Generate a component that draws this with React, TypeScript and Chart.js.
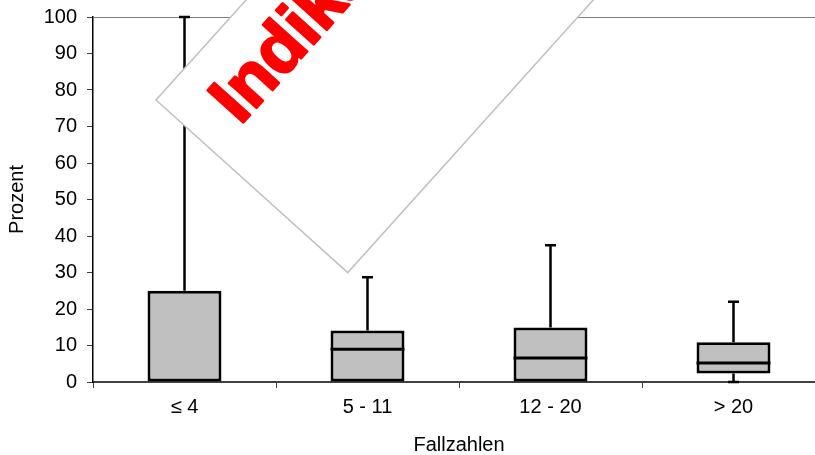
import React, { useEffect, useRef } from 'react';
import { Chart, registerables } from 'chart.js';

Chart.register(...registerables);

// ---- data ----
const categories = ['≤ 4', '5 - 11', '12 - 20', '> 20'];
const minValues = [0, 0, 0, 0];
const q1Values = [0, 0, 0, 2.3];
const medianValues = [0, 9, 6.6, 5.2];
const q3Values = [25, 14.1, 14.9, 10.9];
const maxValues = [100, 28.7, 37.5, 22];
const yTicks = [0, 10, 20, 30, 40, 50, 60, 70, 80, 90, 100];
const yTitle = 'Prozent';
const xTitle = 'Fallzahlen';
const watermarkText = 'Indikator';

const FONT = '"Liberation Sans", Arial, sans-serif';

const boxExtras = {
  id: 'boxExtras',
  afterDatasetsDraw(chart: any) {
    const meta = chart.getDatasetMeta(0);
    const y = chart.scales.y;
    const ctx = chart.ctx;
    ctx.save();
    ctx.strokeStyle = '#000';
    ctx.lineCap = 'butt';
    const cap = 5.5;
    meta.data.forEach((bar: any, i: number) => {
      const x = bar.x;
      const w = bar.width;
      const yq1 = y.getPixelForValue(q1Values[i]);
      const yq3 = y.getPixelForValue(q3Values[i]);
      const ymax = y.getPixelForValue(maxValues[i]);
      const ymin = y.getPixelForValue(minValues[i]);
      const ymed = y.getPixelForValue(medianValues[i]);
      ctx.lineWidth = 2.5;
      if (maxValues[i] > q3Values[i]) {
        ctx.beginPath();
        ctx.moveTo(x, yq3);
        ctx.lineTo(x, ymax);
        ctx.moveTo(x - cap, ymax);
        ctx.lineTo(x + cap, ymax);
        ctx.stroke();
      }
      if (minValues[i] < q1Values[i]) {
        ctx.beginPath();
        ctx.moveTo(x, yq1);
        ctx.lineTo(x, ymin);
        ctx.moveTo(x - cap, ymin);
        ctx.lineTo(x + cap, ymin);
        ctx.stroke();
      }
      if (medianValues[i] > q1Values[i] && medianValues[i] < q3Values[i]) {
        ctx.lineWidth = 3;
        ctx.beginPath();
        ctx.moveTo(x - w / 2, ymed);
        ctx.lineTo(x + w / 2, ymed);
        ctx.stroke();
      }
    });
    ctx.restore();
  },
};

const watermark = {
  id: 'watermark',
  afterDraw(chart: any) {
    const ctx = chart.ctx;
    ctx.save();
    ctx.translate(156, 100);
    ctx.rotate((-48 * Math.PI) / 180);
    ctx.beginPath();
    ctx.rect(0, 0, 620, 258);
    ctx.fillStyle = '#ffffff';
    ctx.fill();
    ctx.strokeStyle = '#c0c0c0';
    ctx.lineWidth = 1.5;
    ctx.stroke();
    ctx.font = 'bold 70px ' + FONT;
    ctx.textBaseline = 'alphabetic';
    ctx.textAlign = 'left';
    ctx.fillStyle = '#ff0000';
    ctx.strokeStyle = '#ff0000';
    ctx.lineJoin = 'round';
    ctx.lineWidth = 2.5;
    ctx.fillText(watermarkText, 37, 80);
    ctx.strokeText(watermarkText, 37, 80);
    ctx.restore();
  },
};

export default function App() {
  const ref = useRef<HTMLCanvasElement>(null);
  useEffect(() => {
    const chart = new Chart(ref.current as HTMLCanvasElement, {
      type: 'bar',
      data: {
        labels: categories,
        datasets: [
          {
            data: q1Values.map((q, i) => [q, q3Values[i]]) as any,
            backgroundColor: '#c0c0c0',
            borderColor: '#000000',
            borderWidth: 3,
            borderSkipped: false,
            barPercentage: 0.404,
            categoryPercentage: 1,
          },
        ],
      },
      options: {
        animation: false,
        responsive: false,
        devicePixelRatio: 1,
        layout: { padding: { top: 17, right: 15, left: 0, bottom: 0 } },
        plugins: {
          legend: { display: false },
          tooltip: { enabled: false },
        },
        scales: {
          x: {
            grid: {
              offset: true,
              drawOnChartArea: false,
              drawTicks: true,
              tickLength: 6,
              tickColor: '#404040',
              tickWidth: 1,
            },
            border: { color: '#404040', width: 2 },
            ticks: {
              font: { family: FONT, size: 20 },
              color: '#000',
              padding: 7,
              maxRotation: 0,
              autoSkip: false,
            },
            title: {
              display: true,
              text: xTitle,
              color: '#000',
              font: { family: FONT, size: 20, lineHeight: 1 },
              padding: { top: 0, bottom: 0 },
            },
            afterFit: (s: any) => {
              s.height = 73;
              s.paddingLeft = 0;
              s.paddingRight = 0;
            },
          },
          y: {
            min: 0,
            max: 100,
            afterBuildTicks: (s: any) => {
              s.ticks = yTicks.map((v) => ({ value: v }));
            },
            ticks: {
              font: { family: FONT, size: 20 },
              color: '#000',
              padding: 10,
            },
            grid: {
              color: (c: any) => (c.tick && c.tick.value === 100 ? '#808080' : 'rgba(0,0,0,0)'),
              tickColor: '#404040',
              tickLength: 6,
              drawTicks: true,
            },
            border: { color: '#000', width: 1.5 },
            title: {
              display: true,
              text: yTitle,
              color: '#000',
              font: { family: FONT, size: 20, lineHeight: 1 },
              padding: { top: 7, bottom: 0 },
            },
            afterFit: (s: any) => {
              s.width = 93;
              s.paddingTop = 0;
              s.paddingBottom = 0;
            },
          },
        },
      },
      plugins: [boxExtras, watermark],
    });
    return () => chart.destroy();
  }, []);
  return (
    <div
      style={{
        position: 'fixed',
        left: 0,
        top: 0,
        width: 815,
        height: 455,
        overflow: 'hidden',
        background: '#fff',
      }}
    >
      <canvas ref={ref} width={840} height={455} style={{ display: 'block', width: 840, height: 455 }} />
    </div>
  );
}
